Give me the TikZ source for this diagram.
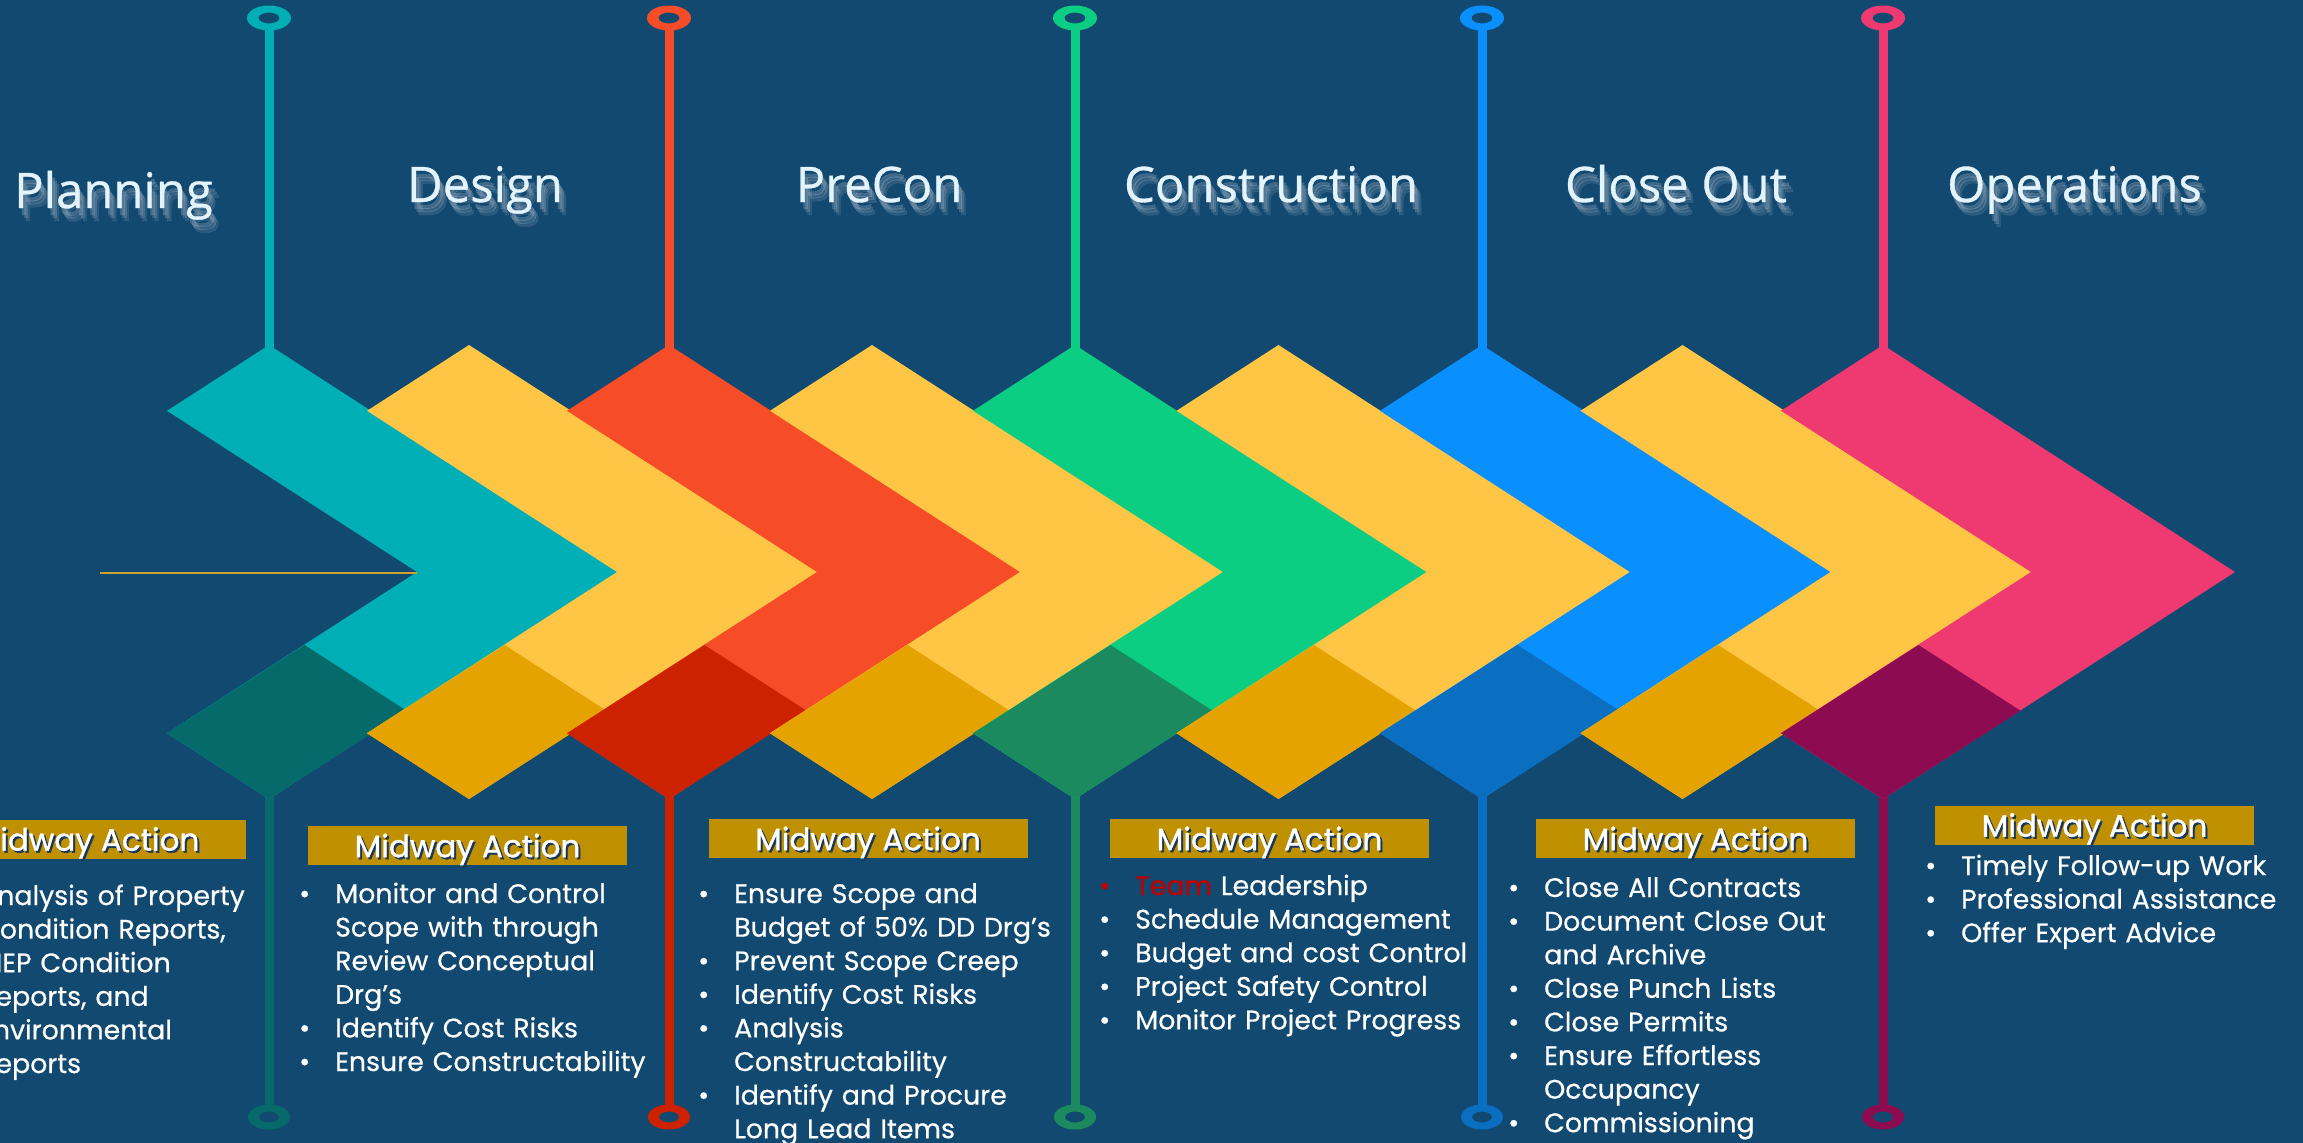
\documentclass[tikz,border=0pt]{standalone}
\usepackage{fontspec}
\setmainfont[FakeBold=0.5]{Poppins}
\newfontfamily\midfont[FakeBold=1.2]{Poppins}
\newfontfamily\titlefont[FakeBold=0.7]{Open Sans}
\usetikzlibrary{calc}
\definecolor{bg}{RGB}{18,73,112}
\definecolor{cteal}{RGB}{0,175,182}
\definecolor{dteal}{RGB}{6,106,107}
\definecolor{cyel}{RGB}{255,197,68}
\definecolor{dyel}{RGB}{228,163,0}
\definecolor{cred}{RGB}{247,76,40}
\definecolor{dred}{RGB}{204,34,0}
\definecolor{cgreen}{RGB}{11,206,130}
\definecolor{dgreen}{RGB}{27,138,95}
\definecolor{cblue}{RGB}{10,143,255}
\definecolor{dblue}{RGB}{10,110,193}
\definecolor{cpink}{RGB}{239,58,113}
\definecolor{dpink}{RGB}{141,11,80}
\definecolor{gold}{RGB}{191,144,0}
\definecolor{titlecol}{RGB}{228,244,252}
\definecolor{shadowcol}{RGB}{190,200,212}
\definecolor{midsh}{RGB}{25,55,90}
\definecolor{teamred}{RGB}{192,0,0}
\definecolor{lineg}{RGB}{205,160,50}
\newcommand\bul{\makebox[36pt][l]{\textbullet}}
\newcommand\ind{\hspace*{36pt}}
\newcommand\redbul{\makebox[36pt][l]{\color{teamred}\textbullet}}
\newcommand\chevron[4]{%
  \fill[#3] (#2,345) -- ({#2+352},572) -- (#2,799) -- ({#2-102},733.2) -- ({#2+148},572) -- ({#2-102},410.8) -- cycle;
  \fill[#4] ({#2+35.5},645) -- ({#2+137.5},710.7) -- (#2,799) -- ({#2-102},733.2) -- cycle;
}
\newcommand\stagetitle[4]{%
  \foreach \dx/\dy/\op in {3/7/0.25,5/10/0.2,7/13/0.14}
    \node[stageshadow, opacity=\op] at ({#2+\dx},{#3+\dy}) {#4};
  \node[stagettl] (#1) at (#2,#3) {#4};
}
\newcommand\midway[3]{%
  \node[midbox] (#1) at (#2,#3) {};
  \node[midshd] at ($(#1.south)+(2,-6)$) {Midway Action};
  \node[midtxt] (#1-t) at ($(#1.south)+(0,-8)$) {Midway Action};
}
\begin{document}
\begin{tikzpicture}[x=1pt,y=-1pt,
  stagettl/.style={font=\titlefont\fontsize{49}{52}\selectfont, text=titlecol, anchor=base, inner sep=0},
  stageshadow/.style={font=\titlefont\fontsize{49}{52}\selectfont, text=shadowcol, anchor=base, inner sep=0},
  midbox/.style={fill=gold, minimum width=319pt, minimum height=39pt, inner sep=0, draw=none},
  midtxt/.style={font=\midfont\fontsize{31}{33}\selectfont, text=white, anchor=base, inner sep=0},
  midshd/.style={font=\midfont\fontsize{31}{33}\selectfont, text=midsh, anchor=base, inner sep=0},
  listtxt/.style={font=\fontsize{26.8}{33.6}\selectfont, text=white, anchor=base west, inner sep=0, text width=440pt, align=left},
  stemline/.style={line width=9pt},
]
\useasboundingbox (0,0) rectangle (2303,1143);
\clip (0,0) rectangle (2303,1143);
\fill[bg] (0,0) rectangle (2303,1143);

% stage coordinates
\foreach \n/\c in {1/269,2/669,3/1075,4/1482,5/1883} {
  \coordinate (rt\n) at (\c,18);
  \coordinate (tp\n) at (\c,345);
  \coordinate (bt\n) at (\c,799);
  \coordinate (rb\n) at (\c,1117);
}
% stems
\foreach \n/\br/\dk in {1/cteal/dteal,2/cred/dred,3/cgreen/dgreen,4/cblue/dblue,5/cpink/dpink} {
  \draw[stemline, \br] ([yshift=-11pt]rt\n) -- ([yshift=-10pt]tp\n);
  \draw[stemline, \dk] ([yshift=10pt]bt\n) -- ([yshift=11pt]rb\n);
}
% chevrons
\chevron{ch1}{269}{cteal}{dteal}
\chevron{ch2}{469}{cyel}{dyel}
\chevron{ch3}{669}{cred}{dred}
\chevron{ch4}{872}{cyel}{dyel}
\chevron{ch5}{1075}{cgreen}{dgreen}
\chevron{ch6}{1278.5}{cyel}{dyel}
\chevron{ch7}{1482}{cblue}{dblue}
\chevron{ch8}{1682.5}{cyel}{dyel}
\chevron{ch9}{1883}{cpink}{dpink}
% rings
\foreach \n/\br/\dk in {1/cteal/dteal,2/cred/dred,3/cgreen/dgreen,4/cblue/dblue,5/cpink/dpink} {
  \fill[\br, even odd rule] (rt\n) ellipse [x radius=22, y radius=12.5] (rt\n) ellipse [x radius=10.5, y radius=5.5];
  \fill[\dk, even odd rule] (rb\n) ellipse [x radius=21, y radius=12.5] (rb\n) ellipse [x radius=10, y radius=5.5];
}
% thin gold line
\coordinate (gl) at (100,573);
\coordinate (gn) at (417,573);
\draw[lineg, line width=2pt] (gl) -- (gn);

% titles
\stagetitle{tPlan}{113.5}{208}{Planning}
\stagetitle{tDes}{485}{202}{Design}
\stagetitle{tPre}{879}{202}{PreCon}
\stagetitle{tCon}{1271}{202}{Construction}
\stagetitle{tClo}{1676}{202}{Close Out}
\stagetitle{tOps}{2074.5}{202}{Operations}

% midway boxes
\midway{m1}{86.5}{839}
\midway{m2}{467.5}{845.5}
\midway{m3}{868}{838.5}
\midway{m4}{1269.5}{838.5}
\midway{m5}{1695.5}{838.5}
\midway{m6}{2094.5}{825}

% lists
\node[listtxt] (l1) at (-57,905) {\bul Analysis of Property\\ \ind Condition Reports,\\ \ind MEP Condition\\ \ind Reports, and\\ \ind Environmental\\ \ind Reports};
\node[listtxt] (l2) at (299,903) {\bul Monitor and Control\\ \ind Scope with through\\ \ind Review Conceptual\\ \ind Drg’s\\ \bul Identify Cost Risks\\ \bul Ensure Constructability};
\node[listtxt] (l3) at (698,903) {\bul Ensure Scope and\\ \ind Budget of 50\% DD Drg’s\\ \bul Prevent Scope Creep\\ \bul Identify Cost Risks\\ \bul Analysis\\ \ind Constructability\\ \bul Identify and Procure\\ \ind Long Lead Items};
\node[listtxt] (l4) at (1099,895) {\redbul{\color{teamred}Team} Leadership\\ \bul Schedule Management\\ \bul Budget and cost Control\\ \bul Project Safety Control\\ \bul Monitor Project Progress};
\node[listtxt] (l5) at (1508,897) {\bul Close All Contracts\\ \bul Document Close Out\\ \ind and Archive\\ \bul Close Punch Lists\\ \bul Close Permits\\ \bul Ensure Effortless\\ \ind Occupancy\\ \bul Commissioning};
\node[listtxt] (l6) at (1925,875) {\bul Timely Follow-up Work\\ \bul Professional Assistance\\ \bul Offer Expert Advice};
\end{tikzpicture}
\end{document}
